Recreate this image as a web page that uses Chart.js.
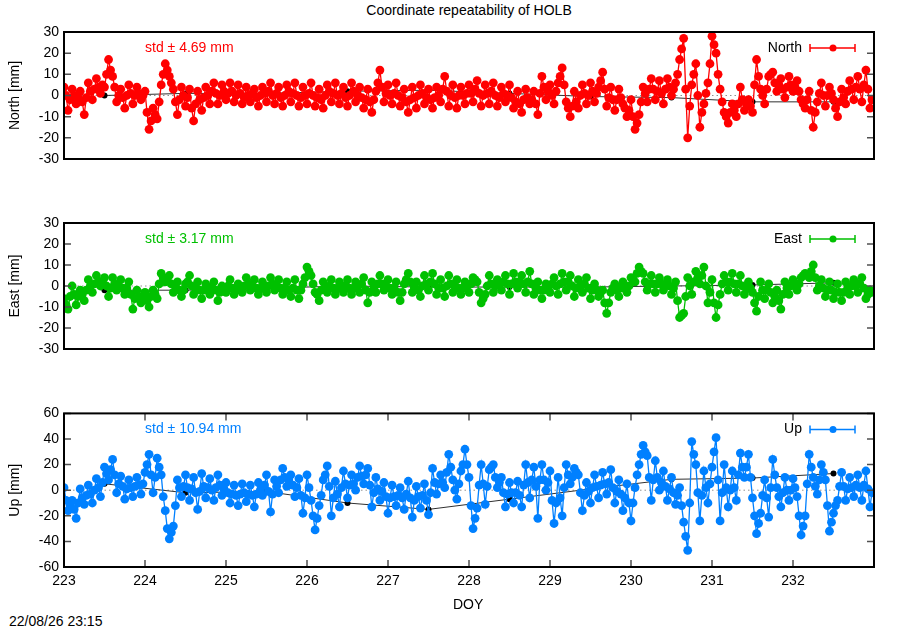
<!DOCTYPE html>
<html>
<head>
<meta charset="utf-8">
<title>Coordinate repeatability of HOLB</title>
<script src="https://cdn.jsdelivr.net/npm/chart.js@4.4.1/dist/chart.umd.min.js"></script>
<style>
  body { margin: 0; background: #fff; }
  #wrap { position: relative; width: 900px; height: 630px; font-family: 'Liberation Sans', Arial, sans-serif; color: #000; }
  #wrap canvas { position: absolute; left: 0; }
  .txt { position: absolute; font-size: 14px; white-space: nowrap; }
</style>
</head>
<body>
<div id="wrap">
  <div class="txt" style="left:0;width:938px;text-align:center;top:2px;">Coordinate repeatability of HOLB</div>
  <canvas id="northChart" width="900" height="200" style="top:0"></canvas>
  <canvas id="eastChart" width="900" height="200" style="top:200px"></canvas>
  <canvas id="upChart" width="900" height="200" style="top:400px"></canvas>
  <div class="txt" style="left:453px;top:596px;">DOY</div>
  <div class="txt" style="left:9px;top:613px;">22/08/26 23:15</div>
</div>
<script>
// epochs (day of year)
const doy = [
  223.00,223.05,223.10,223.15,223.20,223.25,223.30,223.35,223.40,223.45,223.50,223.55,223.60,223.65,223.70,223.75,223.80,223.85,223.90,223.95,
  224.00,224.05,224.10,224.15,224.20,224.25,224.30,224.35,224.40,224.45,224.50,224.55,224.60,224.65,224.70,224.75,224.80,224.85,224.90,224.95,
  225.00,225.05,225.10,225.15,225.20,225.25,225.30,225.35,225.40,225.45,225.50,225.55,225.60,225.65,225.70,225.75,225.80,225.85,225.90,225.95,
  226.00,226.05,226.10,226.15,226.20,226.25,226.30,226.35,226.40,226.45,226.50,226.55,226.60,226.65,226.70,226.75,226.80,226.85,226.90,226.95,
  227.00,227.05,227.10,227.15,227.20,227.25,227.30,227.35,227.40,227.45,227.50,227.55,227.60,227.65,227.70,227.75,227.80,227.85,227.90,227.95,
  228.00,228.05,228.10,228.15,228.20,228.25,228.30,228.35,228.40,228.45,228.50,228.55,228.60,228.65,228.70,228.75,228.80,228.85,228.90,228.95,
  229.00,229.05,229.10,229.15,229.20,229.25,229.30,229.35,229.40,229.45,229.50,229.55,229.60,229.65,229.70,229.75,229.80,229.85,229.90,229.95,
  230.00,230.05,230.10,230.15,230.20,230.25,230.30,230.35,230.40,230.45,230.50,230.55,230.60,230.65,230.70,230.75,230.80,230.85,230.90,230.95,
  231.00,231.05,231.10,231.15,231.20,231.25,231.30,231.35,231.40,231.45,231.50,231.55,231.60,231.65,231.70,231.75,231.80,231.85,231.90,231.95,
  232.00,232.05,232.10,232.15,232.20,232.25,232.30,232.35,232.40,232.45,232.50,232.55,232.60,232.65,232.70,232.75,232.80,232.85,232.90,232.95
];
// in-between epochs
const doyMid = [
  223.025,223.075,223.125,223.175,223.225,223.275,223.325,223.375,223.425,223.475,223.525,223.575,223.625,223.675,223.725,223.775,223.825,223.875,223.925,223.975,
  224.025,224.075,224.125,224.175,224.225,224.275,224.325,224.375,224.425,224.475,224.525,224.575,224.625,224.675,224.725,224.775,224.825,224.875,224.925,224.975,
  225.025,225.075,225.125,225.175,225.225,225.275,225.325,225.375,225.425,225.475,225.525,225.575,225.625,225.675,225.725,225.775,225.825,225.875,225.925,225.975,
  226.025,226.075,226.125,226.175,226.225,226.275,226.325,226.375,226.425,226.475,226.525,226.575,226.625,226.675,226.725,226.775,226.825,226.875,226.925,226.975,
  227.025,227.075,227.125,227.175,227.225,227.275,227.325,227.375,227.425,227.475,227.525,227.575,227.625,227.675,227.725,227.775,227.825,227.875,227.925,227.975,
  228.025,228.075,228.125,228.175,228.225,228.275,228.325,228.375,228.425,228.475,228.525,228.575,228.625,228.675,228.725,228.775,228.825,228.875,228.925,228.975,
  229.025,229.075,229.125,229.175,229.225,229.275,229.325,229.375,229.425,229.475,229.525,229.575,229.625,229.675,229.725,229.775,229.825,229.875,229.925,229.975,
  230.025,230.075,230.125,230.175,230.225,230.275,230.325,230.375,230.425,230.475,230.525,230.575,230.625,230.675,230.725,230.775,230.825,230.875,230.925,230.975,
  231.025,231.075,231.125,231.175,231.225,231.275,231.325,231.375,231.425,231.475,231.525,231.575,231.625,231.675,231.725,231.775,231.825,231.875,231.925,231.975,
  232.025,232.075,232.125,232.175,232.225,232.275,232.325,232.375,232.425,232.475,232.525,232.575,232.625,232.675,232.725,232.775,232.825,232.875,232.925,232.975
];

// North [mm]
const north = [
  4,-7,3,-4,2,-9,6,-2,8,1,4,17,9,-3,3,-6,5,-4,4,-2,
  2,-16,-6,-11,5,15,9,3,-9,4,-5,3,-12,2,-7,4,-4,6,-4,5,
  -2,6,-3,5,-4,4,-3,3,-5,4,-3,6,-4,4,-5,5,-3,6,-5,4,
  -4,6,-5,3,-6,5,-3,6,-4,4,-5,6,-3,4,-6,3,-8,2,12,-3,
  5,-4,6,-5,3,-8,4,-6,5,-4,3,-6,4,-3,9,-5,5,-6,4,-4,
  5,-3,7,-5,5,-4,6,-5,4,-3,5,-6,2,-8,3,-4,2,-9,9,-2,
  5,-4,6,13,-3,-10,2,-6,5,-4,6,-3,4,11,-5,4,-7,3,-4,-10,
  -2,-16,-9,4,-3,8,-2,7,-4,8,0,6,17,27,-20,5,15,-15,-4,6,
  28,20,3,-8,-13,-4,-10,4,-7,-2,-8,17,3,-4,9,11,2,8,-1,9,
  2,7,-2,-6,2,-15,-3,6,-5,4,-2,-10,3,-4,7,-2,9,-3,12,-6
];
const northMid = [
  0,-2,0,-1,-3,-1,2,3,4,5,10,12,4,0,-1,0,1,0,1,0,
  -8,-12,-9,-3,10,12,6,-3,-2,0,-1,-6,-4,-2,-1,0,2,1,0,2,
  1,2,0,1,-1,0,1,-1,0,1,2,0,1,-1,0,2,1,0,-1,0,
  1,0,-1,-2,0,2,1,0,1,-1,0,2,0,-1,-2,-3,-2,6,4,1,
  0,1,0,-1,-3,-2,-1,0,1,-1,-2,-1,0,3,2,0,-1,0,0,1,
  1,3,1,0,1,2,0,-1,1,0,-1,-3,-4,-2,-1,-2,-4,1,4,2,
  0,2,9,5,-6,-5,-3,0,1,0,2,1,7,3,-1,-2,-2,-1,-6,-7,
  -10,-13,-3,1,3,3,2,1,3,4,3,10,22,3,-5,10,0,-8,1,15,
  24,10,-3,-10,-8,-7,-4,-2,-4,-5,5,9,0,3,10,6,5,3,4,5,
  4,2,-4,-2,-7,-8,1,0,0,1,-6,-3,-1,2,3,4,3,5,3,-2
];

// East [mm]
const east = [
  -6,-11,0,-9,-2,-7,3,-3,5,0,4,-5,4,-2,3,-4,2,-11,-2,-8,
  -3,-10,-2,-6,6,2,5,-3,2,-5,1,5,-4,2,-6,1,-4,2,-7,0,
  -3,3,-4,1,-3,4,-2,3,-4,2,-3,4,-2,3,-4,2,-5,3,-6,1,
  9,5,-3,-7,2,-3,3,-4,2,-3,3,-4,2,-3,4,-8,2,-3,5,-2,
  3,-4,2,-7,1,6,-3,2,-5,5,-2,6,-4,3,-5,5,-3,3,-4,2,
  -3,4,2,-8,-4,5,-3,3,-2,5,-4,6,-1,5,-3,7,-4,2,-6,1,
  -3,4,-4,6,-2,5,-5,3,-3,4,-6,1,-5,-2,-13,-3,1,-5,2,-3,
  4,2,9,6,-2,5,-3,4,-2,3,-4,2,-15,-13,4,-4,7,1,9,-8,
  3,-15,-4,5,-2,6,-3,5,-4,2,-3,-12,2,-6,1,-8,-2,-11,2,-4,
  3,-2,4,6,4,10,-2,3,-5,2,-6,1,-7,2,-4,3,-3,4,-6,-2
];
const eastMid = [
  -9,-5,-4,-5,-4,-2,0,1,2,2,0,-1,1,0,-1,-1,-4,-6,-5,-5,
  -7,-5,-4,1,4,3,1,0,-2,-2,2,0,-1,-2,-2,-1,-1,-2,-3,-1,
  0,-1,-2,-1,0,1,0,-1,-1,0,0,1,0,-1,-1,-2,-1,-2,-2,4,
  7,1,-4,-2,-1,0,-1,-1,0,0,-1,-1,0,1,-2,-3,-1,1,1,0,
  -1,-1,-3,-3,3,2,-1,-2,0,1,2,1,-1,-1,0,1,0,-1,-1,0,
  1,3,-3,-6,0,1,0,1,2,1,1,2,2,1,2,1,-1,-2,-2,-1,
  1,0,1,2,2,0,-1,0,1,-1,-2,-2,-3,-8,-8,-1,-2,-1,-1,0,
  3,6,7,2,1,1,1,1,0,0,-1,-7,-14,-5,0,2,4,5,0,-3,
  -8,-9,1,2,2,1,1,0,-1,-1,-8,-5,-2,-2,-3,-5,-7,-4,-1,0,
  1,1,5,5,7,4,0,-1,-2,-2,-3,-3,-3,-1,0,0,1,-1,-4,-3
];

// Up [mm]
const up = [
  2,-16,-8,-22,1,-11,4,-10,9,-5,18,8,24,-2,11,-7,8,-5,10,-3,
  14,28,-2,25,12,-16,-38,-28,8,-5,12,-8,10,-15,13,-6,9,-8,12,-4,
  6,-10,4,-12,5,-9,4,-13,6,-4,12,-17,8,-2,17,3,12,-5,9,-18,
  12,-8,-31,-12,8,19,-20,7,-13,15,-6,12,0,19,5,17,-13,10,-8,6,
  -18,4,-12,2,-15,7,-21,3,-14,5,-19,17,-3,12,2,28,8,-7,15,32,
  10,-30,-14,20,-11,16,20,2,10,-13,6,-10,7,-13,20,-6,18,-22,20,0,
  15,-26,10,-20,20,5,17,12,-16,6,-10,12,-6,14,-3,16,-10,8,-16,5,
  -24,2,20,35,27,-8,23,0,15,-8,10,-11,2,-25,-47,38,20,-24,15,-10,
  18,41,-24,20,-13,15,-8,29,10,28,-6,-34,-18,8,-21,24,2,-13,10,-8,
  9,-5,-35,-20,28,10,-3,20,8,-32,-18,-8,14,-8,10,-5,12,-8,15,-13
];
const upMid = [
  -8,-12,-15,-10,-6,-4,-3,0,2,6,13,16,12,5,3,1,2,3,4,5,
  20,12,10,18,-5,-30,-33,-12,2,3,2,1,-2,-1,3,2,0,2,4,1,
  -2,-3,-4,-3,-2,-3,-4,-3,0,4,-1,-3,3,8,10,8,4,2,-4,-6,
  2,-20,-22,-4,12,3,-6,-3,2,5,4,5,10,11,12,4,-2,1,-1,-5,
  -6,-5,-4,-6,-3,-6,-8,-5,-4,-8,-2,6,5,6,14,18,0,5,20,20,
  -12,-22,4,5,3,18,10,6,-2,-3,-2,-2,-4,4,6,8,3,8,8,6,
  -8,-10,-6,2,12,10,14,-2,-4,-1,2,3,4,5,6,2,-1,-3,-6,-10,
  -10,12,28,30,10,8,10,6,3,1,-2,-4,-12,-36,-10,28,-2,-4,2,5,
  30,8,-2,2,0,2,12,18,18,10,-20,-26,-4,-6,2,12,-5,-2,0,0,
  2,-20,-28,5,18,3,8,14,-12,-25,-12,3,3,1,2,4,2,4,1,-2
];

// daily solutions (black line)
const dailyDoy   = [223.5, 224.5, 225.5, 226.5, 227.5, 228.5, 229.5, 230.5, 231.5, 232.5];
const dailyNorth = [0, 1, 1, 2, 2.5, 1, -0.5, -1, -3, -3];
const dailyEast  = [-2, -2, -1, 0, -0.5, -0.5, -0.5, 0, 0.5, 1.5];
const dailyUp    = [5, -2, -1, -10, -15, -7, 1, 8.5, 9.5, 13];

const stdLabels = ['std \u00b1 4.69 mm', 'std \u00b1 3.17 mm', 'std \u00b1 10.94 mm'];
const FONT = "'Liberation Sans', Arial, sans-serif";

// frame, inward ticks, zero line, std label, key and y title, gnuplot style
const gnuplotFrame = {
    id: 'gnuplotFrame',
    beforeDatasetsDraw(chart) {
        const { ctx, chartArea: a, scales } = chart;
        const y0 = scales.y.getPixelForValue(0);
        ctx.save();
        ctx.strokeStyle = '#909090';
        ctx.lineWidth = 1;
        ctx.setLineDash([1.5, 3]);
        ctx.beginPath();
        ctx.moveTo(a.left, y0);
        ctx.lineTo(a.right, y0);
        ctx.stroke();
        ctx.restore();
    },
    afterDatasetsDraw(chart, args, opts) {
        const { ctx, chartArea: a, scales } = chart;
        ctx.save();

        // inward ticks
        ctx.strokeStyle = '#505050';
        ctx.lineWidth = 1.5;
        ctx.beginPath();
        scales.y.ticks.forEach(t => {
            const py = scales.y.getPixelForValue(t.value);
            ctx.moveTo(a.left, py); ctx.lineTo(a.left + 7, py);
            ctx.moveTo(a.right, py); ctx.lineTo(a.right - 7, py);
        });
        if (opts.xTicks) {
            scales.x.ticks.forEach(t => {
                const px = scales.x.getPixelForValue(t.value);
                ctx.moveTo(px, a.bottom); ctx.lineTo(px, a.bottom - 7);
                ctx.moveTo(px, a.top); ctx.lineTo(px, a.top + 7);
            });
        }
        ctx.stroke();

        // frame
        ctx.strokeStyle = '#000';
        ctx.lineWidth = 2;
        ctx.strokeRect(a.left, a.top, a.right - a.left, a.bottom - a.top);

        ctx.font = '14px ' + FONT;
        ctx.textBaseline = 'middle';

        // std label
        ctx.fillStyle = opts.color;
        ctx.textAlign = 'left';
        ctx.fillText(opts.std, a.left + 81, a.top + 16);

        // key
        const ky = a.top + 16;
        ctx.fillStyle = '#000';
        ctx.textAlign = 'right';
        ctx.fillText(opts.key, a.right - 72, ky);
        ctx.strokeStyle = opts.color;
        ctx.lineWidth = 1.5;
        ctx.beginPath();
        ctx.moveTo(a.right - 64, ky); ctx.lineTo(a.right - 19, ky);
        ctx.moveTo(a.right - 64, ky - 4); ctx.lineTo(a.right - 64, ky + 4);
        ctx.moveTo(a.right - 19, ky - 4); ctx.lineTo(a.right - 19, ky + 4);
        ctx.stroke();
        ctx.fillStyle = opts.color;
        ctx.beginPath();
        ctx.arc(a.right - 41, ky, 3.5, 0, Math.PI * 2);
        ctx.fill();

        // y axis title
        ctx.fillStyle = '#000';
        ctx.textAlign = 'center';
        ctx.translate(15, (a.top + a.bottom) / 2);
        ctx.rotate(-Math.PI / 2);
        ctx.fillText(opts.title, 0, 0);
        ctx.restore();
    }
};

function toPoints(values, mids) {
    const pts = doy.map((x, i) => ({ x, y: values[i] }))
        .concat(doyMid.map((x, i) => ({ x, y: mids[i] })));
    return pts.sort((p, q) => p.x - q.x);
}

function makePanel(id, cfg) {
    const ctx = document.getElementById(id).getContext('2d');
    return new Chart(ctx, {
        type: 'line',
        data: {
            datasets: [{
                data: toPoints(cfg.values, cfg.mids),
                borderColor: cfg.color,
                backgroundColor: cfg.color,
                borderWidth: 1.3,
                pointRadius: 4.4,
                pointBorderWidth: 0,
                pointStyle: 'circle',
                order: 0
            }, {
                data: dailyDoy.map((x, i) => ({ x, y: cfg.daily[i] })),
                borderColor: '#303030',
                backgroundColor: '#000',
                borderWidth: 1,
                pointRadius: 3,
                pointBorderWidth: 0,
                order: 1
            }]
        },
        options: {
            responsive: false,
            animation: false,
            events: [],
            layout: { padding: cfg.padding },
            plugins: {
                legend: { display: false },
                tooltip: { enabled: false },
                gnuplotFrame: {
                    color: cfg.color, std: cfg.std, key: cfg.key,
                    title: cfg.title, xTicks: cfg.showX
                }
            },
            scales: {
                x: {
                    type: 'linear',
                    min: 223, max: 233,
                    display: cfg.showX,
                    grid: { display: false, drawTicks: false },
                    border: { display: false },
                    ticks: {
                        stepSize: 1,
                        padding: 6,
                        color: '#000',
                        font: { family: FONT, size: 14 },
                        callback: v => v === 233 ? '' : v
                    },
                    afterFit: s => { s.height = 33; }
                },
                y: {
                    min: cfg.min, max: cfg.max,
                    grid: { display: false, drawTicks: false },
                    border: { display: false },
                    ticks: {
                        stepSize: cfg.step,
                        padding: 5,
                        color: '#000',
                        font: { family: FONT, size: 14 }
                    },
                    afterFit: s => { s.width = 64; }
                }
            }
        },
        plugins: [gnuplotFrame]
    });
}

makePanel('northChart', {
    values: north, mids: northMid, daily: dailyNorth, color: '#ff0000', std: stdLabels[0],
    key: 'North', title: 'North [mm]', min: -30, max: 30, step: 10,
    showX: false, padding: { top: 32, bottom: 8, left: 0, right: 26 }
});
makePanel('eastChart', {
    values: east, mids: eastMid, daily: dailyEast, color: '#00c000', std: stdLabels[1],
    key: 'East', title: 'East [mm]', min: -30, max: 30, step: 10,
    showX: false, padding: { top: 23, bottom: 18, left: 0, right: 26 }
});
makePanel('upChart', {
    values: up, mids: upMid, daily: dailyUp, color: '#0080ff', std: stdLabels[2],
    key: 'Up', title: 'Up [mm]', min: -60, max: 60, step: 20,
    showX: true, padding: { top: 12, bottom: 0, left: 0, right: 26 }
});
</script>
</body>
</html>
